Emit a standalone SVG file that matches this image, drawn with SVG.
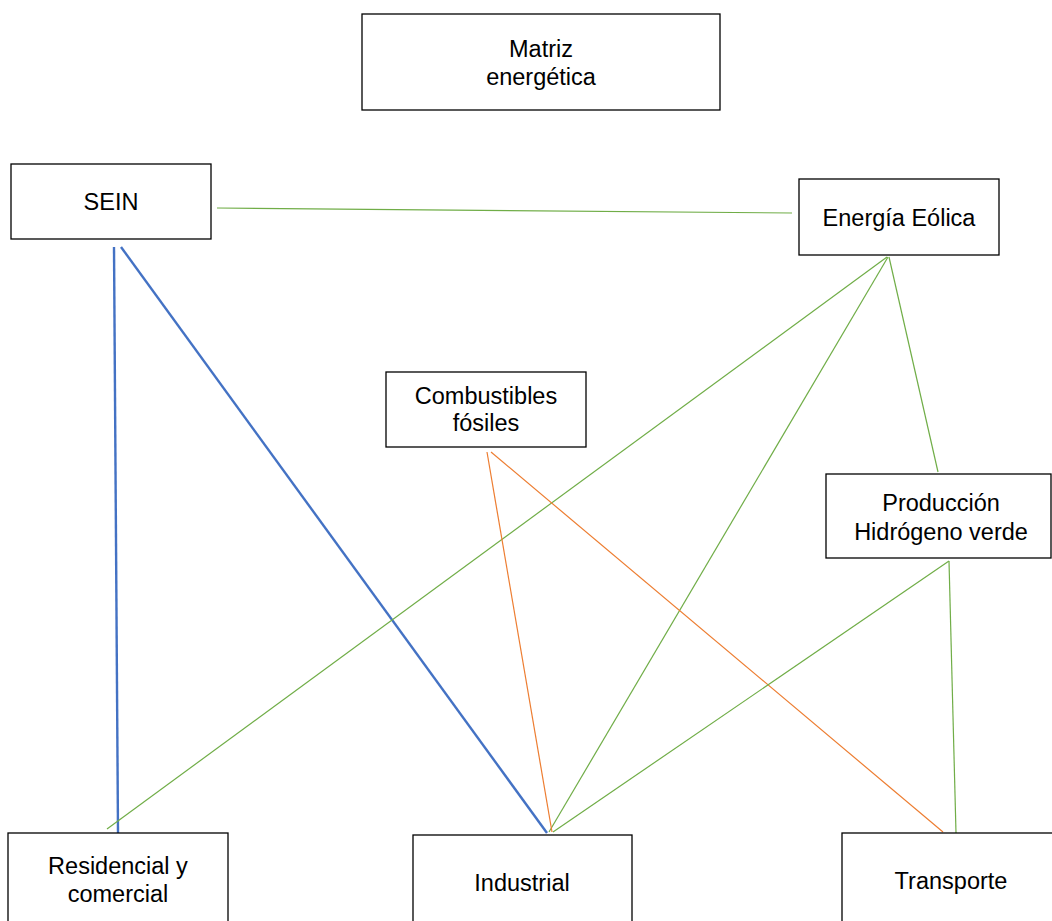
<svg xmlns="http://www.w3.org/2000/svg" width="1052" height="921" viewBox="0 0 1052 921">
<style>
.box{fill:#fff;stroke:#000;stroke-width:1.3}
text{font-family:"Liberation Sans",Arial,sans-serif;font-size:23.5px;fill:#000;text-anchor:middle}
.g{stroke:#70ad47;stroke-width:1.2;fill:none}
.b{stroke:#4472c4;stroke-width:2.4;fill:none}
.o{stroke:#ed7d31;stroke-width:1.2;fill:none}
</style>
<rect width="1052" height="921" fill="#fff"/>
<g id="connectors">
<line class="g" x1="217" y1="208" x2="792" y2="213"/>
<line class="b" x1="114" y1="247" x2="118" y2="833"/>
<line class="b" x1="121" y1="247" x2="547" y2="833"/>
<line class="g" x1="887" y1="257" x2="107" y2="829"/>
<line class="g" x1="888" y1="257" x2="549" y2="832"/>
<line class="g" x1="889" y1="257" x2="938" y2="472"/>
<line class="o" x1="487" y1="452" x2="552" y2="832"/>
<line class="o" x1="491" y1="452" x2="943" y2="832"/>
<line class="g" x1="949" y1="561" x2="553" y2="832"/>
<line class="g" x1="949" y1="561" x2="956" y2="833"/>
</g>
<g id="matriz"><rect class="box" x="362" y="14" width="358" height="96"/><text x="541" y="57">Matriz</text><text x="541" y="85">energética</text></g>
<g id="sein"><rect class="box" x="11" y="164" width="200" height="75"/><text x="111" y="210">SEIN</text></g>
<g id="eolica"><rect class="box" x="799" y="179" width="200" height="76"/><text x="899" y="226">Energía Eólica</text></g>
<g id="fosiles"><rect class="box" x="386" y="372" width="200" height="75"/><text x="486" y="404">Combustibles</text><text x="486" y="431">fósiles</text></g>
<g id="hidrogeno"><rect class="box" x="826" y="474" width="225" height="84"/><text x="941" y="511">Producción</text><text x="941" y="540">Hidrógeno verde</text></g>
<g id="residencial"><rect class="box" x="8" y="833" width="220" height="100"/><text x="118" y="874">Residencial y</text><text x="118" y="902">comercial</text></g>
<g id="industrial"><rect class="box" x="413" y="835" width="219" height="100"/><text x="522" y="891">Industrial</text></g>
<g id="transporte"><rect class="box" x="842" y="833" width="220" height="100"/><text x="951" y="889">Transporte</text></g>
</svg>
